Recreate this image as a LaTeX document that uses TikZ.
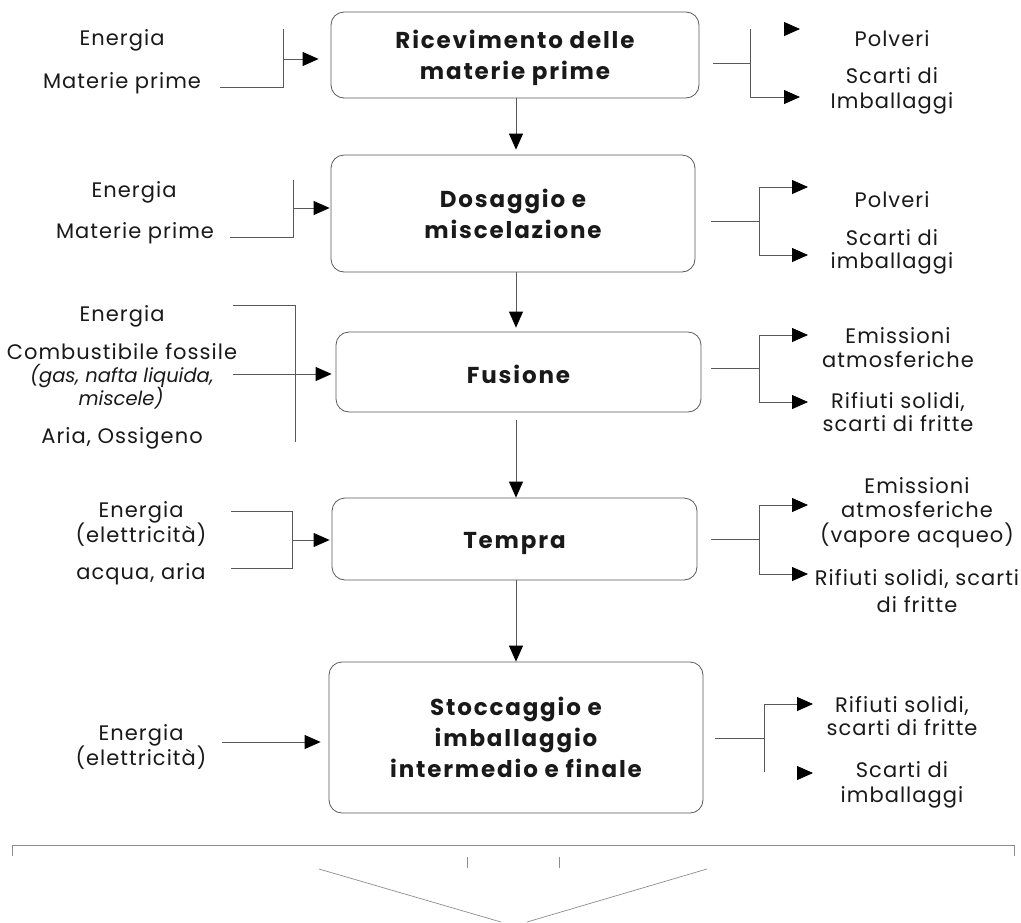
\documentclass[tikz,border=0pt]{standalone}
\usepackage{fontspec}
\setmainfont{Poppins}
\usetikzlibrary{arrows.meta,calc}
\definecolor{ln}{gray}{0.35}
\definecolor{tx}{gray}{0.1}
\tikzset{
  txt/.style={font=\fontsize{21}{25}\selectfont\addfontfeature{LetterSpace=5}, anchor=base, inner sep=0pt, text=tx},
  itx/.style={txt, font=\fontsize{19.5}{24}\selectfont\itshape},
  stepbox/.style={draw=ln, line width=0.8pt, rounded corners=13pt, inner sep=0pt},
  boxtext/.style={align=center, inner sep=0pt, text=tx,
     font=\fontsize{23}{31}\selectfont\bfseries\addfontfeature{LetterSpace=8}},
  ln/.style={draw=ln, line width=0.8pt},
  arr/.style={ln, -{Triangle[length=16pt,width=14pt,color=black]}},
  thin/.style={draw=black!45, line width=0.7pt}
}
\begin{document}
\begin{tikzpicture}[x=1pt,y=-1pt]
\useasboundingbox (0,0) rectangle (1021,922);
% boxes
\node[stepbox, minimum width=368pt, minimum height=86pt] (b1) at (515,55) {};
\node[stepbox, minimum width=364pt, minimum height=117pt] (b2) at (513,213.5) {};
\node[stepbox, minimum width=365pt, minimum height=80pt] (b3) at (518.5,372) {};
\node[stepbox, minimum width=365pt, minimum height=82pt] (b4) at (514.5,539) {};
\node[stepbox, minimum width=374pt, minimum height=151pt] (b5) at (516,737.5) {};
\node[boxtext] (b1t) at ($(b1.center)+(0,3)$) {Ricevimento delle\\materie prime};
\node[boxtext] (b2t) at ($(b2.center)+(0,0)$) {Dosaggio e\\miscelazione};
\node[boxtext] (b3t) at ($(b3.center)+(0,2)$) {Fusione};
\node[boxtext] (b4t) at ($(b4.center)+(0,4)$) {Tempra};
\node[boxtext] (b5t) at ($(b5.center)+(0,0)$) {Stoccaggio e\\imballaggio\\intermedio e finale};
\coordinate (cx) at (516,0);
\draw[arr, shorten >=5pt] (b1.south -| cx) -- (b2.north -| cx);
\draw[arr, shorten >=4pt] (b2.south -| cx) -- (b3.north -| cx);
\draw[arr, shorten <=8pt] (b3.south -| cx) -- (b4.north -| cx);
\draw[arr] (b4.south -| cx) -- (b5.north -| cx);

% left texts
\node[txt] (l1a) at (122,45) {Energia};
\node[txt] (l1b) at (122,88) {Materie prime};
\node[txt] (l2a) at (134,197) {Energia};
\node[txt] (l2b) at (135,238) {Materie prime};
\node[txt] (l3a) at (122,321) {Energia};
\node[txt] (l3b) at (122,359) {Combustibile fossile};
\node[itx] (l3c) at (122,382) {(gas, nafta liquida,};
\node[itx] (l3d) at (121,405) {miscele)};
\node[txt] (l3e) at (122,443) {Aria, Ossigeno};
\node[txt] (l4a) at (141,517) {Energia};
\node[txt] (l4b) at (141,542) {(elettricità)};
\node[txt] (l4c) at (141,579) {acqua, aria};
\node[txt] (l5a) at (141,740) {Energia};
\node[txt] (l5b) at (141,765) {(elettricità)};

% left connectors
\coordinate (i1s) at (220,87); \coordinate (i1j) at (283,87); \coordinate (i1t) at (283,29); \coordinate (i1m) at (283,59);
\draw[ln] (i1s) -- (i1j) -- (i1t);
\draw[arr, shorten >=12pt] (i1m) -- (b1.west |- i1m);
\coordinate (i2s) at (230,237); \coordinate (i2j) at (293,237); \coordinate (i2t) at (293,180); \coordinate (i2m) at (293,208);
\draw[ln] (i2s) -- (i2j) -- (i2t);
\draw[arr, shorten >=1pt] (i2m) -- (b2.west |- i2m);
\coordinate (i3s) at (233,305); \coordinate (i3j) at (295,305); \coordinate (i3b) at (295,442); \coordinate (i3m) at (233,374);
\draw[ln] (i3s) -- (i3j) -- (i3b);
\draw[arr, shorten >=4pt] (i3m) -- (b3.west |- i3m);
\coordinate (i4s) at (231,511); \coordinate (i4j) at (292,511); \coordinate (i4k) at (292,568); \coordinate (i4e) at (231,568); \coordinate (i4m) at (292,540);
\draw[ln] (i4s) -- (i4j) -- (i4k) -- (i4e);
\draw[arr, shorten >=2pt] (i4m) -- (b4.west |- i4m);
\coordinate (i5s) at (222,742);
\draw[arr, shorten >=8pt] (i5s) -- (b5.west |- i5s);

% right texts
\node[txt] (r1a) at (892,46) {Polveri};
\node[txt] (r1b) at (892,83) {Scarti di};
\node[txt] (r1c) at (892,108) {Imballaggi};
\node[txt] (r2a) at (892,207) {Polveri};
\node[txt] (r2b) at (892,245) {Scarti di};
\node[txt] (r2c) at (892,268) {imballaggi};
\node[txt] (r3a) at (898,343) {Emissioni};
\node[txt] (r3b) at (898,367) {atmosferiche};
\node[txt] (r3c) at (898,408) {Rifiuti solidi,};
\node[txt] (r3d) at (898,431) {scarti di fritte};
\node[txt] (r4a) at (917,493) {Emissioni};
\node[txt] (r4b) at (917,517) {atmosferiche};
\node[txt] (r4c) at (917,542) {(vapore acqueo)};
\node[txt] (r4d) at (917,585) {Rifiuti solidi, scarti};
\node[txt] (r4e) at (917,612) {di fritte};
\node[txt] (r5a) at (902,712) {Rifiuti solidi,};
\node[txt] (r5b) at (902,735) {scarti di fritte};
\node[txt] (r5c) at (902,777) {Scarti di};
\node[txt] (r5d) at (902,802) {imballaggi};

% right connectors
\coordinate (o1s) at (713,63); \coordinate (o1j) at (750,63); \coordinate (o1t) at (750,29); \coordinate (o1b) at (750,97);
\coordinate (o1h) at (785,29); \coordinate (o1e) at (800,29); \coordinate (o1f) at (800,97);
\draw[ln] (o1s) -- (o1j); \draw[ln] (o1t) -- (o1b);
\draw[arr] (o1b) -- (o1f);
\draw[arr] (o1h) -- (o1e);
\coordinate (o2s) at (711,221); \coordinate (o2j) at (759,221); \coordinate (o2t) at (759,187); \coordinate (o2b) at (759,255);
\coordinate (o2e) at (808,187); \coordinate (o2f) at (808,255);
\draw[ln] (o2s) -- (o2j);
\draw[arr] (o2j) -- (o2t) -- (o2e);
\draw[arr] (o2j) -- (o2b) -- (o2f);
\coordinate (o3s) at (711,368); \coordinate (o3j) at (759,368); \coordinate (o3t) at (759,335); \coordinate (o3b) at (759,402);
\coordinate (o3e) at (808,335); \coordinate (o3f) at (808,402);
\draw[ln] (o3s) -- (o3j);
\draw[arr] (o3j) -- (o3t) -- (o3e);
\draw[arr] (o3j) -- (o3b) -- (o3f);
\coordinate (o4s) at (711,539); \coordinate (o4j) at (759,539); \coordinate (o4t) at (759,505); \coordinate (o4b) at (759,574);
\coordinate (o4e) at (808,505); \coordinate (o4f) at (808,574);
\draw[ln] (o4s) -- (o4j);
\draw[arr] (o4j) -- (o4t) -- (o4e);
\draw[arr] (o4j) -- (o4b) -- (o4f);
\coordinate (o5s) at (715,738); \coordinate (o5j) at (764,738); \coordinate (o5t) at (764,704); \coordinate (o5b) at (764,772);
\coordinate (o5e) at (813,704); \coordinate (o5h) at (797,773); \coordinate (o5f) at (813,773);
\draw[ln] (o5s) -- (o5j);
\draw[arr] (o5j) -- (o5t) -- (o5e);
\draw[ln] (o5j) -- (o5b);
\draw[arr] (o5h) -- (o5f);

% bottom bracket
\coordinate (k1) at (12,856); \coordinate (k2) at (12,845); \coordinate (k3) at (1014,845); \coordinate (k4) at (1014,856);
\draw[thin] (k1) -- (k2) -- (k3) -- (k4);
\coordinate (t1a) at (467,857); \coordinate (t1b) at (467,868);
\coordinate (t2a) at (559,857); \coordinate (t2b) at (559,868);
\draw[thin] (t1a) -- (t1b); \draw[thin] (t2a) -- (t2b);
\coordinate (d1a) at (319,869); \coordinate (d1b) at (501,922);
\coordinate (d2a) at (707,869); \coordinate (d2b) at (527,922);
\draw[thin] (d1a) -- (d1b); \draw[thin] (d2a) -- (d2b);
\end{tikzpicture}
\end{document}
